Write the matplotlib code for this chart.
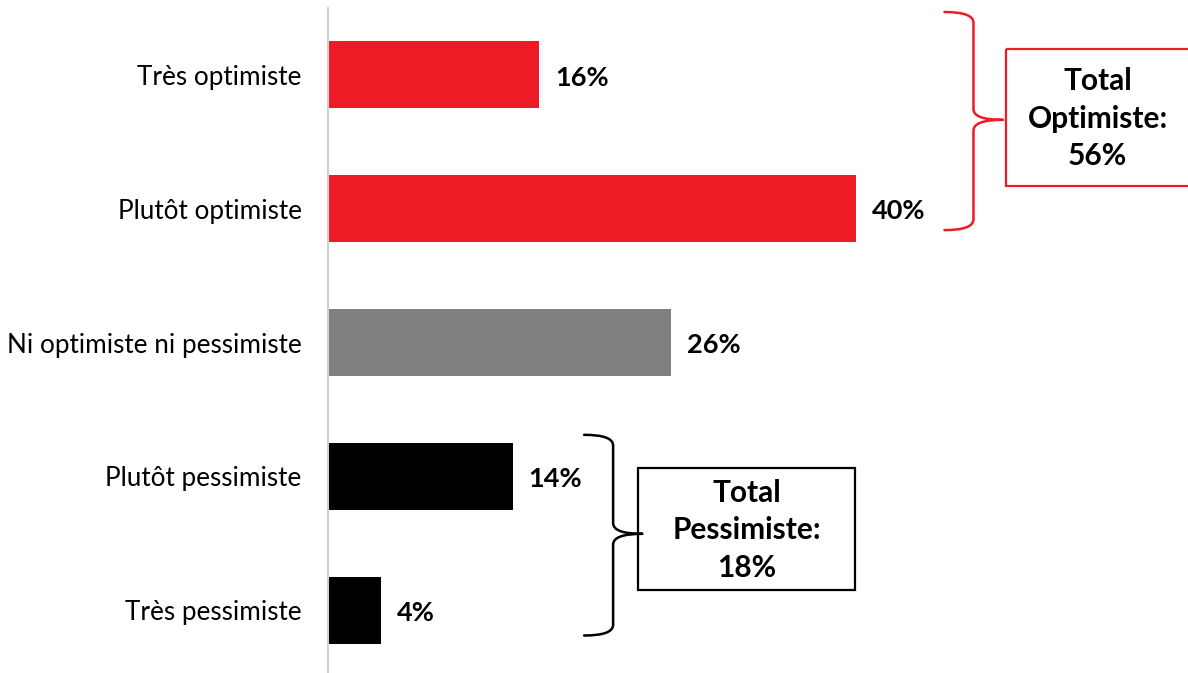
import matplotlib
matplotlib.use("Agg")
import matplotlib.pyplot as plt
from matplotlib.path import Path
from matplotlib.patches import PathPatch, Rectangle

plt.rcParams['font.family'] = ['Lato', 'DejaVu Sans']

# data
categories = ['Très optimiste', 'Plutôt optimiste', 'Ni optimiste ni pessimiste',
              'Plutôt pessimiste', 'Très pessimiste']
values = [16, 40, 26, 14, 4]
colors = ['#ED1C24', '#ED1C24', '#808080', '#000000', '#000000']
total_opt = 56
total_pes = 18

fig = plt.figure(figsize=(11.88, 6.73), dpi=100)
# axes placed to match pixel layout: axis line at x=328px, rows 134px apart
W, H = 1188, 673
ax = fig.add_axes([328 / W, (673 - 677) / H, 1 - 328 / W, (677 - 8) / H])

y = list(range(len(categories)))
ax.barh(y, values, height=0.5, color=colors)
ax.set_ylim(4.5, -0.5)
ax.set_xlim(0, (W - 328) / 13.2)

for yi, v in zip(y, values):
    ax.text(v + 1.2, yi + 0.02, f'{v}%', va='center', ha='left', fontsize=19.5, fontweight='bold')

ax.set_yticks(y)
ax.set_yticklabels(categories, fontsize=18.8)
ax.tick_params(axis='y', length=0, pad=19)
ax.set_xticks([])
for s in ['top', 'right', 'bottom']:
    ax.spines[s].set_visible(False)
ax.spines['left'].set_color('#D0D0D0')
ax.spines['left'].set_linewidth(1.5)


def brace(xv, top, mid, bot, color):
    # curly brace opening to the left, tip pointing right
    w = 2.2     # curl width in data x
    r = 0.08    # curl height in data y
    verts = [(xv - w, top), (xv, top), (xv, top + r),
             (xv, mid - r), (xv, mid), (xv + w, mid),
             (xv + w, mid), (xv, mid), (xv, mid + r),
             (xv, bot - r), (xv, bot), (xv - w, bot)]
    codes = [Path.MOVETO, Path.CURVE3, Path.CURVE3,
             Path.LINETO, Path.CURVE3, Path.CURVE3,
             Path.MOVETO, Path.CURVE3, Path.CURVE3,
             Path.LINETO, Path.CURVE3, Path.CURVE3]
    ax.add_patch(PathPatch(Path(verts, codes), fill=False, edgecolor=color,
                           lw=1.8, clip_on=False, capstyle='round'))


def box(x0, x1, y0, y1, color, label, pct, xc):
    ax.add_patch(Rectangle((x0, y0), x1 - x0, y1 - y0, fill=False, edgecolor=color,
                           lw=1.6, clip_on=False))
    ax.text(xc, (y0 + y1) / 2 + 0.01,
            f'Total\n{label}:\n{pct}%', ha='center', va='center', fontsize=21.5,
            fontweight='bold', linespacing=1.42)


# optimist group
brace(48.9, -0.47, 0.336, 1.16, '#ED1C24')
box(51.4, 70, -0.195, 0.83, '#ED1C24', 'Optimiste', total_opt, 58.3)

# pessimist group
brace(21.6, 2.69, 3.43, 4.19, '#000000')
box(23.5, 39.9, 2.94, 3.85, '#000000', 'Pessimiste', total_pes, 31.7)

fig.savefig('out.png', dpi=100)
